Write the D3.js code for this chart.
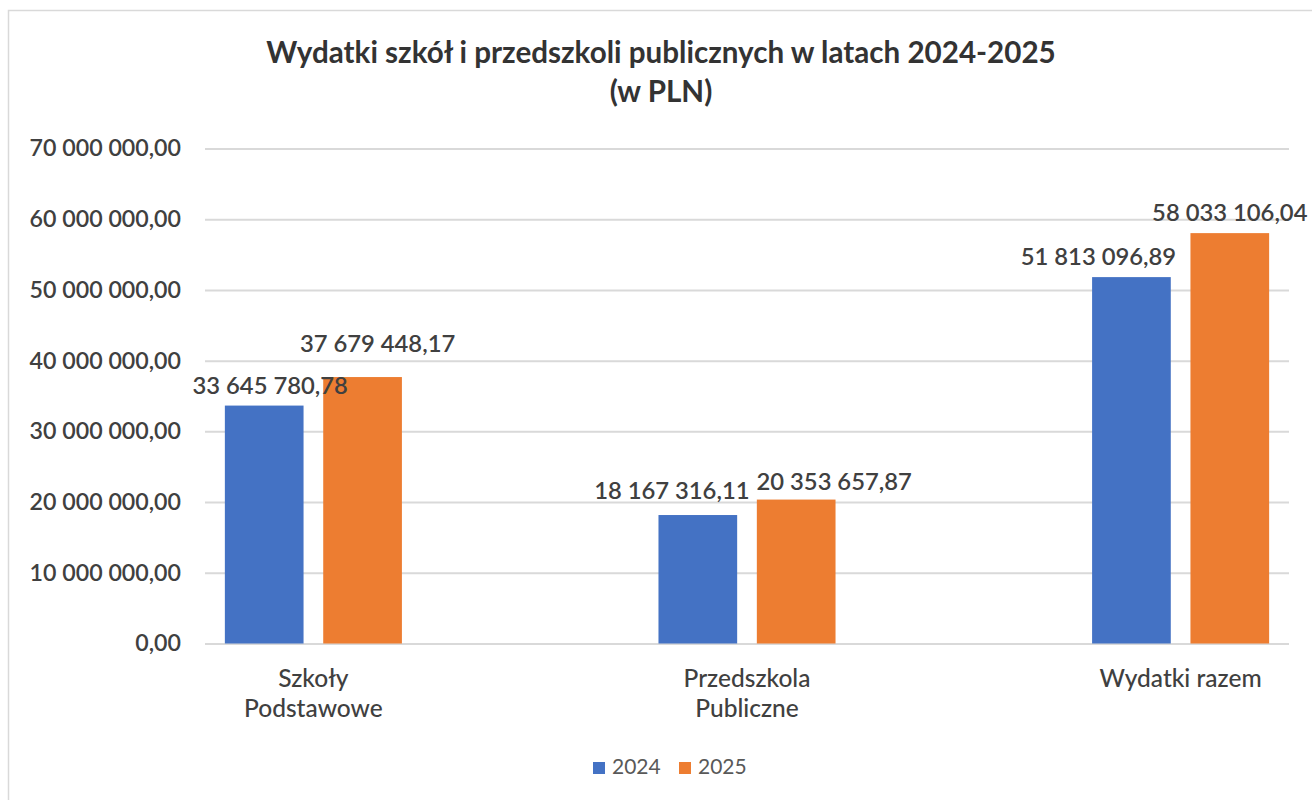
<!DOCTYPE html>
<html>
<head>
<meta charset="utf-8">
<script src="https://cdn.jsdelivr.net/npm/d3@7"></script>
<style>
  body { margin: 0; background: #fff; }
  text { font-family: Lato, "Open Sans", sans-serif; }
</style>
</head>
<body>
<div id="chart"></div>
<script>
var categories = ["Szkoły\nPodstawowe", "Przedszkola\nPubliczne", "Wydatki razem"];
var series = ["2024", "2025"];
var values2024 = [33645780.78, 18167316.11, 51813096.89];
var values2025 = [37679448.17, 20353657.87, 58033106.04];
var yTicks = [0, 10000000, 20000000, 30000000, 40000000, 50000000, 60000000, 70000000];

// hand-moved labels in the original (dx, dy from bar top)
var labelNudge2024 = [[6, -12], [-26, -16], [-33, -12]];
var labelNudge2025 = [[15, -25], [38, -10], [0, -12]];

var color = { "2024": "#4472C4", "2025": "#ED7D31" };

var pl = d3.formatLocale({ decimal: ",", thousands: "\u00a0", grouping: [3], currency: ["", " zł"] });
var fmt = pl.format(",.2f");

var width = 1312, height = 800;
var svg = d3.select("#chart").append("svg")
    .attr("width", width)
    .attr("height", height);

// chart frame
svg.append("rect")
    .attr("x", 8.5).attr("y", 10.5)
    .attr("width", 1320).attr("height", 800)
    .attr("fill", "#fff")
    .attr("stroke", "#d9d9d9")
    .attr("stroke-width", 1.5);

var y = d3.scaleLinear().domain([0, 70000000]).range([643.5, 148.5]);
var x0 = d3.scaleBand().domain(categories).range([205, 1289])
    .paddingInner(0.5917).paddingOuter(0.0458);
var x1 = d3.scaleBand().domain(series).range([0, x0.bandwidth()]).paddingInner(0.2);

// y axis + gridlines
var yAxis = svg.append("g")
    .attr("transform", "translate(205,0)")
    .call(d3.axisLeft(y).tickValues(yTicks).tickSize(-1084).tickPadding(24).tickFormat(fmt));
yAxis.select(".domain").remove();
yAxis.selectAll(".tick line").attr("stroke", "#d9d9d9").attr("stroke-width", 2);
yAxis.selectAll(".tick text")
    .attr("fill", "#404040")
    .attr("font-size", "23.2px")
    .attr("font-weight", 600)
    .attr("font-family", "Lato, sans-serif");

// bars
var rows = categories.map(function(c, i) {
    return [
        { cat: c, s: "2024", v: values2024[i], nudge: labelNudge2024[i] },
        { cat: c, s: "2025", v: values2025[i], nudge: labelNudge2025[i] }
    ];
});

var groups = svg.selectAll("g.group")
    .data(rows)
    .enter().append("g")
    .attr("class", "group")
    .attr("transform", function(d, i) { return "translate(" + x0(categories[i]) + ",0)"; });

groups.selectAll("rect")
    .data(function(d) { return d; })
    .enter().append("rect")
    .attr("x", function(d) { return x1(d.s); })
    .attr("y", function(d) { return y(d.v); })
    .attr("width", x1.bandwidth())
    .attr("height", function(d) { return y(0) - y(d.v); })
    .attr("fill", function(d) { return color[d.s]; });

groups.selectAll("text.lbl")
    .data(function(d) { return d; })
    .enter().append("text")
    .attr("class", "lbl")
    .attr("x", function(d) { return x1(d.s) + x1.bandwidth() / 2 + d.nudge[0]; })
    .attr("y", function(d) { return y(d.v) + d.nudge[1]; })
    .attr("text-anchor", "middle")
    .attr("font-size", "23.8px")
    .attr("font-weight", 600)
    .attr("fill", "#404040")
    .text(function(d) { return fmt(d.v); });

// category labels
var catLabels = svg.selectAll("text.cat")
    .data(categories)
    .enter().append("text")
    .attr("class", "cat")
    .attr("x", function(d) { return x0(d) + x0.bandwidth() / 2; })
    .attr("y", 687)
    .attr("text-anchor", "middle")
    .attr("font-size", "24.5px")
    .attr("font-weight", 500)
    .attr("fill", "#404040");
catLabels.each(function(d) {
    var t = d3.select(this);
    d.split("\n").forEach(function(line, i) {
        t.append("tspan")
            .attr("x", x0(d) + x0.bandwidth() / 2)
            .attr("dy", i === 0 ? 0 : 30)
            .text(line);
    });
});

// title
svg.append("text")
    .attr("x", 661).attr("y", 63)
    .attr("text-anchor", "middle")
    .attr("font-size", "29.6px")
    .attr("font-weight", 700)
    .attr("fill", "#333")
    .text("Wydatki szkół i przedszkoli publicznych w latach 2024-2025");
svg.append("text")
    .attr("x", 661).attr("y", 102)
    .attr("text-anchor", "middle")
    .attr("font-size", "29.6px")
    .attr("font-weight", 700)
    .attr("fill", "#333")
    .text("(w PLN)");

// legend
var legend = svg.selectAll("g.legend")
    .data(series)
    .enter().append("g")
    .attr("class", "legend")
    .attr("transform", function(d, i) { return "translate(" + (593 + i * 86) + ",762)"; });
legend.append("rect")
    .attr("width", 12).attr("height", 12)
    .attr("fill", function(d) { return color[d]; });
legend.append("text")
    .attr("x", 19).attr("y", 12)
    .attr("font-size", "21px")
    .attr("fill", "#595959")
    .text(function(d) { return d; });
</script>
</body>
</html>
